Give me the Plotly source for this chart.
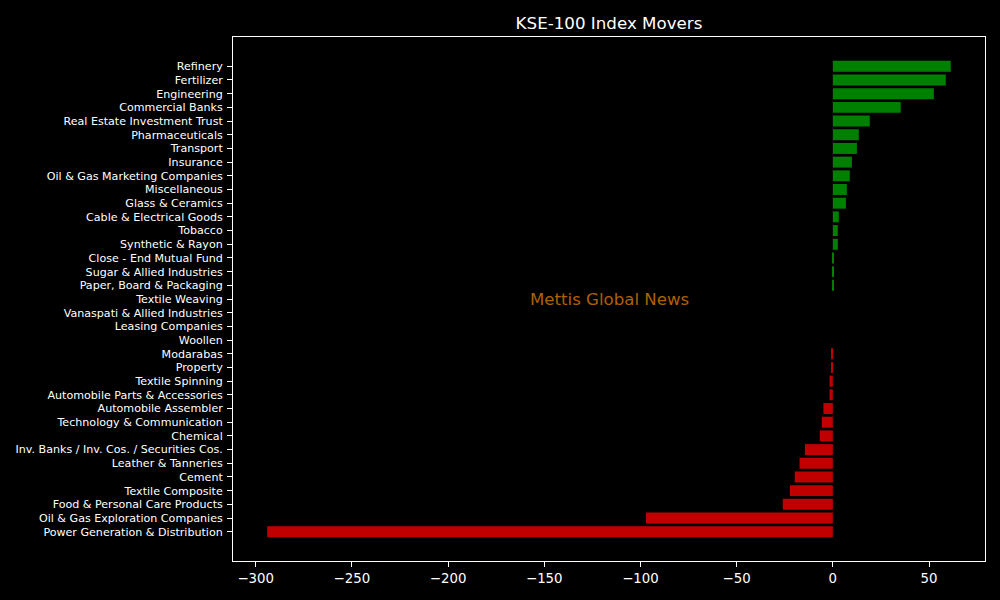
import plotly.graph_objects as go

# sectors, top to bottom as in the chart
sectors = [
    "Refinery", "Fertilizer", "Engineering", "Commercial Banks",
    "Real Estate Investment Trust", "Pharmaceuticals", "Transport", "Insurance",
    "Oil & Gas Marketing Companies", "Miscellaneous", "Glass & Ceramics",
    "Cable & Electrical Goods", "Tobacco", "Synthetic & Rayon",
    "Close - End Mutual Fund", "Sugar & Allied Industries",
    "Paper, Board & Packaging", "Textile Weaving", "Vanaspati & Allied Industries",
    "Leasing Companies", "Woollen", "Modarabas", "Property", "Textile Spinning",
    "Automobile Parts & Accessories", "Automobile Assembler",
    "Technology & Communication", "Chemical",
    "Inv. Banks / Inv. Cos. / Securities Cos.", "Leather & Tanneries", "Cement",
    "Textile Composite", "Food & Personal Care Products",
    "Oil & Gas Exploration Companies", "Power Generation & Distribution",
]
points = [
    61.3, 58.7, 52.5, 35.3, 19.2, 13.5, 12.5, 9.9, 8.8, 7.3, 6.8, 3.1, 2.6, 2.6,
    0.15, 0.12, 0.1, 0.0, 0.0, 0.0, 0.0, -0.5, -0.5, -1.7, -1.7, -4.9, -5.7, -6.8,
    -14.5, -17.3, -19.8, -22.3, -26.0, -97.1, -294.0,
]

# plotly stacks categories bottom-up, so reverse
y = sectors[::-1]
x = points[::-1]
colors = ["#008000" if v >= 0 else "#c00000" for v in x]

font = "DejaVu Sans"

fig = go.Figure()
fig.add_trace(go.Bar(
    x=x, y=y, orientation="h",
    marker=dict(color=colors, line=dict(width=0)),
    hoverinfo="x+y",
))

fig.update_layout(
    width=1000, height=600,
    paper_bgcolor="black", plot_bgcolor="black",
    margin=dict(l=233, r=15, t=37, b=39),
    bargap=0.2,
    showlegend=False,
    font=dict(family=font, color="white"),
    title=dict(
        text="KSE-100 Index Movers", x=0.5, xanchor="center", xref="paper",
        y=1 - 23 / 600, yanchor="middle", yref="container",
        font=dict(family=font, size=16.7, color="white"),
    ),
)

fig.update_xaxes(
    range=[-311.8, 79.1],
    tickvals=[-300, -250, -200, -150, -100, -50, 0, 50],
    ticktext=["\u2212300", "\u2212250", "\u2212200", "\u2212150", "\u2212100", "\u221250", "0", "50"],
    showgrid=False, zeroline=False,
    showline=True, linecolor="white", linewidth=1, mirror=True,
    ticks="outside", ticklen=5, tickcolor="white", tickwidth=1,
    tickfont=dict(family=font, size=13.3, color="white"),
)
fig.update_yaxes(
    type="category", categoryorder="array", categoryarray=y,
    range=[-2.14, 36.14],
    showgrid=False, zeroline=False,
    showline=True, linecolor="white", linewidth=1, mirror=True,
    ticks="outside", ticklen=5, tickcolor="white", tickwidth=1,
    ticklabelstandoff=2,
    tickfont=dict(family=font, size=11.1, color="white"),
)

# watermark in the middle of the axes
fig.add_annotation(
    text="Mettis Global News", x=0.5, y=0.5, xref="paper", yref="paper",
    showarrow=False,
    font=dict(family=font, size=16.6, color="rgba(255,140,0,0.7)"),
)

# drop the browser's default page margin so the figure sits at 0,0
fig.write_html(
    "out.html",
    config={"displayModeBar": False},
    post_script="document.body.style.margin='0';document.body.style.background='black';",
)
